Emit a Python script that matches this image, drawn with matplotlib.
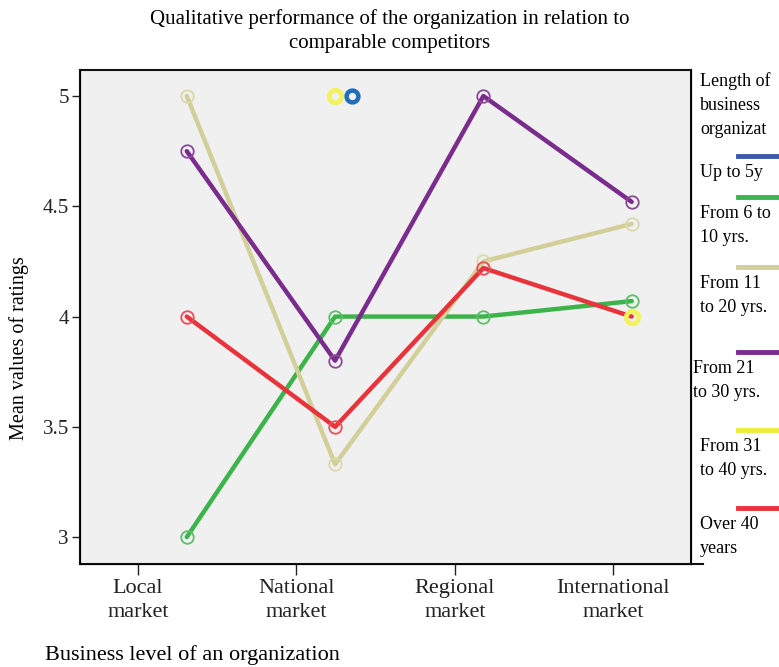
import numpy as np
import matplotlib
matplotlib.use("Agg")
import matplotlib.pyplot as plt
import matplotlib.transforms as mtransforms
from matplotlib.lines import Line2D

plt.rcParams['font.family'] = ['Liberation Serif', 'DejaVu Serif']

# ---- data -------------------------------------------------------------
categories = ["Local\nmarket", "National\nmarket", "Regional\nmarket", "International\nmarket"]
series_names = ["Up to 5y", "From 6 to\n10 yrs.", "From 11\nto 20 yrs.",
                "From 21\nto 30 yrs.", "From 31\nto 40 yrs.", "Over 40\nyears"]
up_to_5 = [np.nan, 5.0, np.nan, np.nan]
from_6_10 = [3.0, 4.0, 4.0, 4.07]
from_11_20 = [5.0, 3.33, 4.25, 4.42]
from_21_30 = [4.75, 3.80, 5.0, 4.52]
from_31_40 = [np.nan, 5.0, np.nan, 4.0]
over_40 = [4.0, 3.5, 4.22, 4.0]
yticks = [3, 3.5, 4, 4.5, 5]
ytick_labels = ["3", "3.5", "4", "4.5", "5"]

values = [up_to_5, from_6_10, from_11_20, from_21_30, from_31_40, over_40]
line_colors = ["#3a5aa8", "#3cb44a", "#d3cf98", "#7a2c8c", "#eeec3c", "#e8333b"]
marker_colors = ["#1f6cb8", "#5dbf69", "#dcd8ac", "#8a4a98", "#f3f160", "#e85058"]
draw_order = [1, 2, 3, 6, 7, 4]

# ---- figure -----------------------------------------------------------
fig = plt.figure(figsize=(7.79, 6.67), dpi=100)
ax = fig.add_axes([80 / 779, 1 - 564 / 667, 611 / 779, 494 / 667])
ax.set_facecolor("#f0f0f0")

x = np.arange(len(categories))
for i, (vals, lc, mc, z) in enumerate(zip(values, line_colors, marker_colors, draw_order)):
    trans = ax.transData
    mew = 1.3
    ms = 9
    if i == 0:
        # the single "Up to 5y" point sits just right of its category
        trans = mtransforms.offset_copy(ax.transData, fig=fig, x=17, y=0, units='dots')
        mew = 3.2
        ms = 8.5
    elif i == 4:
        mew = 3.4
        ms = 9
    ax.plot(x, vals, color=lc, lw=3.2, solid_capstyle='round', transform=trans,
            marker='o', ms=ms, mfc='none', mec=mc, mew=mew, zorder=3 + z)

ax.set_xlim(-0.72, 3.40)
ax.set_ylim(2.878, 5.118)
ax.set_xticks([])
ax.set_yticks(yticks)
ax.set_yticklabels(ytick_labels, fontsize=15)
ax.tick_params(axis='y', direction='out', length=6, width=1, pad=2, colors='#222222')
for s in ax.spines.values():
    s.set_linewidth(1.5)
    s.set_color("#111111")

# category tick axis
ax2 = ax.twiny()
ax2.set_xlim(-0.366, 3.49)
ax2.set_xticks(x)
ax2.set_xticklabels(categories, fontsize=16, linespacing=1.35)
ax2.xaxis.set_ticks_position('bottom')
ax2.xaxis.set_label_position('bottom')
ax2.tick_params(axis='x', direction='out', length=8, width=1, pad=3, colors='#222222')
ax2.spines['top'].set_visible(False)

ax.set_ylabel("Mean values of ratings", fontsize=14.5)
ax.yaxis.set_label_coords(-0.084, 0.437)
fig.text(45 / 779, 1 - 655 / 667, "Business level of an organization", fontsize=16,
         ha='left', va='center')

fig.text(0.5, 1 - 31 / 667,
         "Qualitative performance of the organization in relation to\ncomparable competitors",
         fontsize=15, ha='center', va='center', linespacing=1.4)

# ---- legend at right edge ---------------------------------------------
fig.text(700 / 779, 1 - 105 / 667, "Length of\nbusiness\norganizat", fontsize=13,
         ha='left', va='center', linespacing=1.55)
entry_line_y = [156, 197, 267, 352, 430, 508]
entry_text_x = [700, 700, 700, 693, 700, 700]
for name, lc, ly, tx in zip(series_names, line_colors, entry_line_y, entry_text_x):
    fig.add_artist(Line2D([738 / 779, 1.0], [1 - ly / 667, 1 - ly / 667],
                          color=lc, lw=3.5, transform=fig.transFigure))
    fig.text(tx / 779, 1 - (ly + 8) / 667, name, fontsize=13, ha='left', va='top',
             linespacing=1.55)
# legend frame tail
fig.add_artist(Line2D([691 / 779, 703 / 779], [1 - 564 / 667, 1 - 564 / 667],
                      color="#111111", lw=1.5, transform=fig.transFigure))

fig.savefig("out.png", dpi=100)
